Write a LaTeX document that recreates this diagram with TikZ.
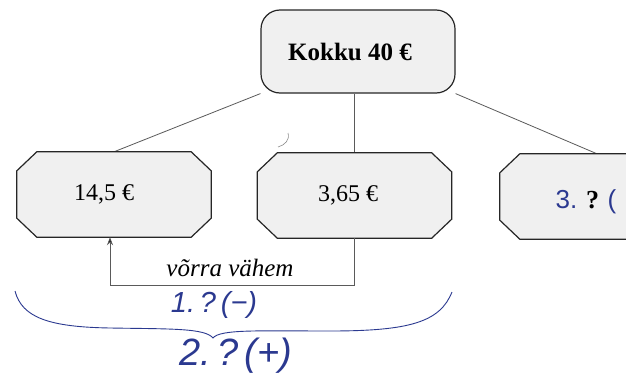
\documentclass[tikz,border=0pt]{standalone}
\usepackage{fontspec}
\setmainfont{Liberation Serif}
\newfontfamily\handfont{Liberation Sans}
\usetikzlibrary{arrows.meta,backgrounds,calc}
\definecolor{boxfill}{HTML}{F0F0F0}
\definecolor{ink}{HTML}{2B3990}
\definecolor{linkgray}{HTML}{5A5A5A}

% chamfered outline drawn round a named node
\newcommand\chamferbox[1]{%
  \path[octo] ($(#1.north west)+(20,0)$) -- ($(#1.north east)+(-20,0)$)
    -- ($(#1.north east)+(0,19)$) -- ($(#1.south east)+(0,-19)$)
    -- ($(#1.south east)+(-20,0)$) -- ($(#1.south west)+(20,0)$)
    -- ($(#1.south west)+(0,-19)$) -- ($(#1.north west)+(0,19)$) -- cycle;}

\begin{document}
\begin{tikzpicture}[x=1pt,y=-1pt,
  total/.style={draw=black!85,line width=1.2pt,fill=boxfill,rounded corners=19pt,
    minimum width=194pt,minimum height=83pt,inner sep=0pt,
    font=\fontsize{25}{30}\selectfont\bfseries},
  part/.style={minimum width=194pt,minimum height=85pt,inner sep=0pt,
    font=\fontsize{24}{28}\selectfont},
  octo/.style={draw=black!85,line width=1.2pt,fill=boxfill},
  link/.style={draw=linkgray,line width=0.8pt},
  hand/.style={text=ink,font=\handfont\itshape\fontsize{#1}{#1}\selectfont},
  hand/.default=20]
\clip (0,0) rectangle (626,383);
\begin{scope}[on background layer]
  \fill[white] (0,0) rectangle (626,383);
\end{scope}

\node[total] (sum) at (358,51.5) {Kokku 40 €\hspace*{16pt}};
\node[part] (a) at (114,194.5) {\raisebox{-3pt}{14,5 €}\hspace*{20pt}};
\node[part] (b) at (354.5,195.5) {\raisebox{-3pt}{3,65 €}\hspace*{13pt}};
\node[part] (c) at (597,196.5) {};
\node[inner sep=0pt,font=\fontsize{26}{30}\selectfont] (clabel) at (586,202)
  {{\color{ink}\handfont 3.}\,\,\textbf{?}\,\,{\color{ink}\handfont(}};

\begin{scope}[on background layer]
  \draw[link] (a.north) -- (sum.south west);
  \draw[link] (b.north) -- (b.north |- sum.south);
  \draw[link] (c.north) -- (sum.south east);
  \chamferbox{a}
  \chamferbox{b}
  \chamferbox{c}
\end{scope}

% "less by" connector between the two parts
\coordinate (turn) at ($(b.south)+(0,47)$);
\draw[link,-{Stealth[length=8pt,width=6pt,fill=black]}] (b.south) -- (turn) -| ($(a.south)+(-4,0)$);
\node[inner sep=0pt,font=\fontsize{25}{30}\selectfont\itshape] (less) at (230,268) {võrra vähem};

% hand-drawn brace and notes
\draw[ink,line width=0.9pt] (15,291) .. controls (22,318) and (50,327) .. (110,328)
  .. controls (170,329) and (205,328) .. (213,338)
  .. controls (220,329) and (260,331) .. (330,331)
  .. controls (410,331) and (440,322) .. (452,292);
\node[hand=29] (q1) at (214,305) {1.\,?\,(−)};
\node[hand=38] (q2) at (236,356) {2.\,?\,(+)};
\draw[linkgray!70,line width=0.6pt] (288,133) .. controls (290,140) and (285,145) .. (278,147);
\end{tikzpicture}
\end{document}
